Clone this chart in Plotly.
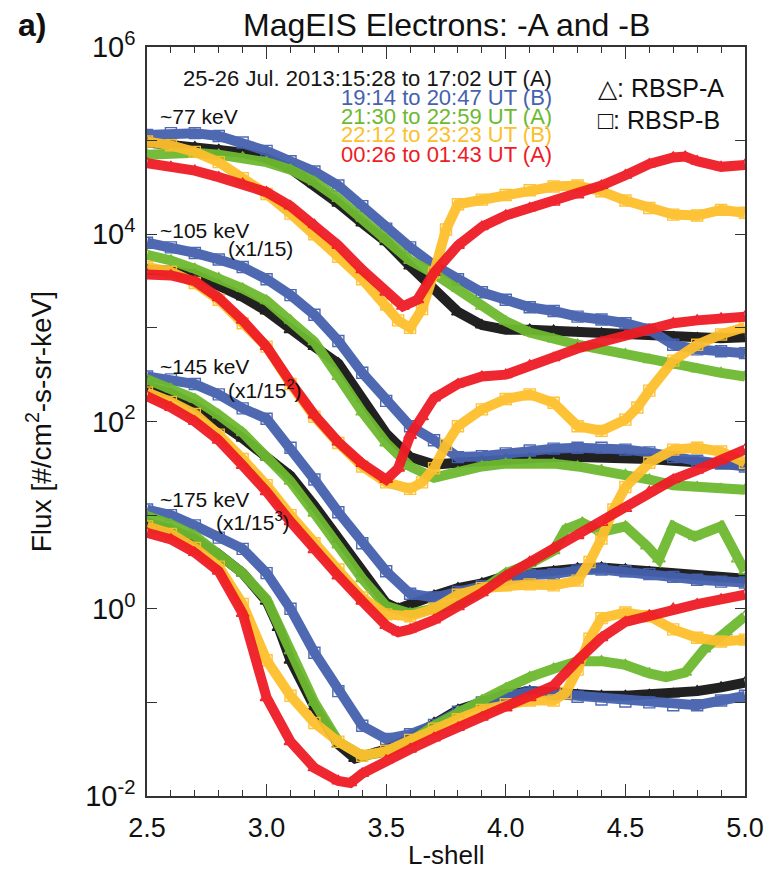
import plotly.graph_objects as go

# ---------------- data (log10 of flux) ----------------
# common L-shell grid
L_GRID = [2.5, 2.6, 2.7, 2.8, 2.9, 3.0, 3.1, 3.2, 3.3, 3.4, 3.5, 3.6, 3.7,
          3.8, 3.9, 4.0, 4.1, 4.2, 4.3, 4.4, 4.5, 4.6, 4.7, 4.8, 4.9, 5.0]

# ~77 keV
L77_black = L_GRID
F77_black = [4.98, 4.96, 4.93, 4.90, 4.87, 4.81, 4.70, 4.53, 4.33, 4.12, 3.92, 3.66, 3.40,
             3.17, 3.03, 2.98, 2.98, 2.97, 2.95, 2.94, 2.93, 2.92, 2.90, 2.89, 2.89, 2.90]
L77_blue = L_GRID
F77_blue = [5.06, 5.08, 5.08, 5.05, 4.98, 4.89, 4.78, 4.67, 4.52, 4.30, 4.06, 3.86, 3.67,
            3.52, 3.38, 3.30, 3.22, 3.18, 3.12, 3.09, 3.05, 2.98, 2.82, 2.77, 2.75, 2.73]
L77_green = L_GRID
F77_green = [4.85, 4.86, 4.87, 4.85, 4.82, 4.77, 4.69, 4.56, 4.38, 4.17, 3.95, 3.72, 3.58,
             3.42, 3.23, 3.07, 2.95, 2.88, 2.82, 2.77, 2.72, 2.66, 2.60, 2.56, 2.52, 2.48]
L77_orange = [2.5, 2.6, 2.7, 2.8, 2.9, 3.0, 3.1, 3.2, 3.3, 3.4, 3.5, 3.55, 3.6, 3.65, 3.7,
              3.75, 3.8, 3.9, 4.0, 4.1, 4.2, 4.3, 4.4, 4.5, 4.6, 4.7, 4.8, 4.9, 5.0]
F77_orange = [4.99, 4.95, 4.88, 4.77, 4.60, 4.43, 4.22, 4.00, 3.76, 3.52, 3.25, 3.08, 3.00, 3.20,
              3.59, 4.05, 4.32, 4.37, 4.42, 4.47, 4.51, 4.52, 4.46, 4.36, 4.28, 4.21, 4.20, 4.26, 4.23]
L77_red = [2.5, 2.6, 2.7, 2.8, 2.9, 3.0, 3.1, 3.2, 3.3, 3.4, 3.5, 3.57, 3.63, 3.7, 3.8,
           3.9, 4.0, 4.1, 4.2, 4.3, 4.4, 4.5, 4.6, 4.7, 4.75, 4.8, 4.9, 5.0]
F77_red = [4.76, 4.72, 4.68, 4.61, 4.54, 4.45, 4.30, 4.10, 3.88, 3.62, 3.38, 3.23, 3.30, 3.59, 3.88,
           4.08, 4.20, 4.28, 4.34, 4.42, 4.52, 4.63, 4.75, 4.82, 4.83, 4.78, 4.72, 4.74]

# ~105 keV (x1/15)
L105_black = L_GRID
F105_black = [3.62, 3.61, 3.57, 3.46, 3.33, 3.18, 2.98, 2.80, 2.62, 2.24, 1.87, 1.62, 1.54,
              1.56, 1.58, 1.60, 1.61, 1.62, 1.62, 1.62, 1.61, 1.60, 1.58, 1.56, 1.54, 1.53]
L105_blue = L_GRID
F105_blue = [3.91, 3.86, 3.80, 3.73, 3.65, 3.52, 3.35, 3.14, 2.86, 2.52, 2.22, 1.95, 1.80,
             1.62, 1.63, 1.66, 1.69, 1.71, 1.72, 1.72, 1.70, 1.67, 1.62, 1.58, 1.55, 1.52]
L105_green = L_GRID
F105_green = [3.78, 3.72, 3.63, 3.53, 3.42, 3.29, 3.08, 2.85, 2.48, 2.10, 1.77, 1.52, 1.40,
              1.46, 1.52, 1.55, 1.56, 1.55, 1.52, 1.48, 1.43, 1.38, 1.32, 1.30, 1.28, 1.27]
L105_orange = [2.5, 2.6, 2.7, 2.8, 2.9, 3.0, 3.1, 3.2, 3.3, 3.4, 3.5, 3.6, 3.65, 3.7, 3.75,
               3.8, 3.9, 4.0, 4.1, 4.2, 4.3, 4.4, 4.5, 4.55, 4.6, 4.7, 4.8, 4.9, 5.0]
F105_orange = [3.65, 3.60, 3.48, 3.30, 3.05, 2.80, 2.40, 2.05, 1.77, 1.52, 1.35, 1.28, 1.35, 1.50, 1.75,
               1.95, 2.13, 2.24, 2.29, 2.20, 1.95, 1.90, 2.02, 2.15, 2.33, 2.65, 2.82, 2.93, 3.01]
L105_red = [2.5, 2.6, 2.7, 2.8, 2.9, 3.0, 3.1, 3.2, 3.3, 3.4, 3.5, 3.55, 3.6, 3.65, 3.7,
            3.8, 3.9, 4.0, 4.1, 4.2, 4.3, 4.4, 4.5, 4.6, 4.7, 4.8, 4.9, 5.0]
F105_red = [3.57, 3.56, 3.50, 3.32, 3.08, 2.80, 2.42, 2.07, 1.78, 1.55, 1.38, 1.50, 1.85, 2.05, 2.25,
            2.40, 2.48, 2.50, 2.60, 2.68, 2.78, 2.85, 2.92, 2.98, 3.05, 3.08, 3.10, 3.12]

# ~145 keV (x1/15^2)
L145_black = [2.5, 2.6, 2.7, 2.8, 2.9, 3.0, 3.1, 3.2, 3.3, 3.4, 3.5, 3.55, 3.6, 3.7,
              3.8, 3.9, 4.0, 4.1, 4.2, 4.3, 4.4, 4.5, 4.6, 4.7, 4.8, 4.9, 5.0]
F145_black = [2.37, 2.30, 2.17, 2.01, 1.82, 1.62, 1.42, 1.10, 0.74, 0.38, 0.06, 0.00, 0.05, 0.14,
              0.22, 0.27, 0.35, 0.38, 0.40, 0.43, 0.44, 0.42, 0.39, 0.36, 0.34, 0.32, 0.32]
L145_blue = L_GRID
F145_blue = [2.48, 2.45, 2.40, 2.29, 2.14, 2.03, 1.72, 1.38, 1.03, 0.70, 0.40, 0.16, 0.12,
             0.18, 0.24, 0.32, 0.36, 0.37, 0.41, 0.42, 0.40, 0.37, 0.34, 0.31, 0.29, 0.28]
L145_green = [2.5, 2.6, 2.7, 2.8, 2.9, 3.0, 3.1, 3.2, 3.3, 3.4, 3.5, 3.6, 3.7, 3.8, 3.9,
              4.0, 4.1, 4.2, 4.25, 4.32, 4.4, 4.5, 4.59, 4.64, 4.7, 4.79, 4.9, 4.97, 5.0]
F145_green = [2.45, 2.35, 2.24, 2.07, 1.88, 1.62, 1.36, 1.02, 0.68, 0.32, 0.03, -0.05, 0.00, 0.05, 0.20,
              0.38, 0.48, 0.62, 0.85, 0.92, 0.82, 0.88, 0.67, 0.53, 0.88, 0.77, 0.88, 0.53, 0.40]
L145_orange = [2.5, 2.6, 2.7, 2.8, 2.9, 3.0, 3.1, 3.2, 3.3, 3.4, 3.5, 3.6, 3.7, 3.8, 3.9,
               4.0, 4.1, 4.2, 4.3, 4.35, 4.4, 4.45, 4.5, 4.6, 4.7, 4.8, 4.9, 5.0]
F145_orange = [2.31, 2.21, 2.08, 1.86, 1.60, 1.32, 1.00, 0.70, 0.42, 0.12, -0.06, -0.08, 0.00, 0.15, 0.22,
               0.25, 0.26, 0.25, 0.30, 0.50, 0.75, 1.06, 1.30, 1.56, 1.70, 1.72, 1.68, 1.56]
L145_red = [2.5, 2.6, 2.7, 2.8, 2.9, 3.0, 3.1, 3.2, 3.3, 3.4, 3.5, 3.55, 3.6, 3.7,
            3.8, 3.9, 4.0, 4.1, 4.2, 4.3, 4.4, 4.5, 4.6, 4.7, 4.8, 4.9, 5.0]
F145_red = [2.27, 2.15, 2.00, 1.80, 1.53, 1.25, 0.93, 0.63, 0.35, 0.08, -0.18, -0.25, -0.22, -0.12,
            0.02, 0.17, 0.35, 0.50, 0.65, 0.78, 0.92, 1.07, 1.25, 1.38, 1.48, 1.58, 1.70]

# ~175 keV (x1/15^3)
L175_black = [2.5, 2.6, 2.7, 2.8, 2.9, 3.0, 3.05, 3.1, 3.2, 3.3, 3.37, 3.45, 3.5, 3.6,
              3.7, 3.8, 3.9, 4.0, 4.1, 4.2, 4.3, 4.4, 4.5, 4.6, 4.7, 4.8, 4.9, 5.0]
F175_black = [0.92, 0.85, 0.74, 0.58, 0.38, 0.08, -0.20, -0.55, -1.05, -1.45, -1.60, -1.55, -1.50, -1.38,
              -1.22, -1.08, -1.00, -0.92, -0.88, -0.90, -0.92, -0.93, -0.93, -0.92, -0.91, -0.88, -0.84, -0.79]
L175_blue = L_GRID
F175_blue = [1.06, 1.00, 0.89, 0.76, 0.64, 0.38, 0.00, -0.47, -0.88, -1.25, -1.39, -1.34, -1.24,
             -1.10, -1.00, -0.93, -0.89, -0.91, -0.94, -0.97, -0.99, -1.00, -1.03, -1.03, -0.98, -0.93]
L175_green = [2.5, 2.6, 2.7, 2.8, 2.9, 3.0, 3.1, 3.2, 3.3, 3.4, 3.5, 3.6, 3.7, 3.8,
              3.9, 4.0, 4.1, 4.2, 4.3, 4.4, 4.5, 4.6, 4.67, 4.75, 4.83, 4.92, 5.0]
F175_green = [0.99, 0.90, 0.78, 0.58, 0.38, 0.10, -0.45, -1.00, -1.42, -1.57, -1.53, -1.42, -1.25, -1.10,
              -0.98, -0.85, -0.73, -0.64, -0.56, -0.56, -0.60, -0.69, -0.73, -0.68, -0.43, -0.25, -0.08]
L175_orange = [2.5, 2.6, 2.7, 2.8, 2.9, 3.0, 3.1, 3.2, 3.3, 3.4, 3.5, 3.6, 3.7, 3.8,
               3.9, 4.0, 4.1, 4.2, 4.25, 4.3, 4.35, 4.4, 4.5, 4.6, 4.7, 4.8, 4.9, 5.0]
F175_orange = [0.88, 0.80, 0.65, 0.45, 0.05, -0.55, -0.93, -1.22, -1.42, -1.57, -1.52, -1.40, -1.28, -1.18,
               -1.08, -1.02, -0.98, -0.98, -0.90, -0.65, -0.32, -0.10, -0.04, -0.08, -0.22, -0.31, -0.35, -0.33]
L175_red = [2.5, 2.6, 2.7, 2.8, 2.9, 3.0, 3.1, 3.2, 3.3, 3.35, 3.4, 3.5, 3.6, 3.7,
            3.8, 3.9, 4.0, 4.1, 4.2, 4.3, 4.4, 4.5, 4.6, 4.7, 4.8, 4.9, 5.0]
F175_red = [0.81, 0.74, 0.60, 0.40, -0.05, -0.95, -1.42, -1.70, -1.84, -1.86, -1.76, -1.62, -1.50, -1.38,
            -1.27, -1.16, -1.06, -0.95, -0.82, -0.55, -0.31, -0.14, -0.07, 0.00, 0.05, 0.10, 0.15]

# time intervals (legend text) and spacecraft
TIME_LABELS = ["25-26 Jul. 2013:15:28 to 17:02 UT (A)", "19:14 to 20:47 UT (B)",
               "21:30 to 22:59 UT (A)", "22:12 to 23:23 UT (B)", "00:26 to 01:43 UT (A)"]
ENERGY_LABELS = ["~77 keV", "~105 keV", "~145 keV", "~175 keV"]
SCALE_LABELS = ["", "(x1/15)", "(x1/15<sup>2</sup>)", "(x1/15<sup>3</sup>)"]
X_TICKS = [2.5, 3.0, 3.5, 4.0, 4.5, 5.0]
Y_EXPONENTS = [-2, -1, 0, 1, 2, 3, 4, 5, 6]

# ---------------- styling ----------------
BLACK = "#161616"
BLUE = "#4562AE"
GREEN = "#6DB92F"
ORANGE = "#FDBF2C"
RED = "#EF1C25"
FONT = "Liberation Sans, Arial, Helvetica, sans-serif"

W, H = 776, 870
ML, MR, MT, MB = 147, 24, 47, 74
PW, PH = W - ML - MR, H - MT - MB


def px(x):
    return (x - ML) / PW


def py(y):
    return (H - MB - y) / PH


series = [
    # (color, symbol, [(L, logF), ...])
    (BLACK, "triangle-up-open", [(L77_black, F77_black), (L105_black, F105_black),
                                 (L145_black, F145_black), (L175_black, F175_black)]),
    (BLUE, "square-open", [(L77_blue, F77_blue), (L105_blue, F105_blue),
                           (L145_blue, F145_blue), (L175_blue, F175_blue)]),
    (GREEN, "triangle-up-open", [(L77_green, F77_green), (L105_green, F105_green),
                                 (L145_green, F145_green), (L175_green, F175_green)]),
    (ORANGE, "square-open", [(L77_orange, F77_orange), (L105_orange, F105_orange),
                             (L145_orange, F145_orange), (L175_orange, F175_orange)]),
    (RED, "triangle-up-open", [(L77_red, F77_red), (L105_red, F105_red),
                               (L145_red, F145_red), (L175_red, F175_red)]),
]

fig = go.Figure()
for color, symbol, groups in series:
    for Ls, logF in groups:
        fig.add_trace(go.Scatter(
            x=Ls, y=[10 ** v for v in logF], mode="lines+markers",
            line=dict(color=color, width=10),
            marker=dict(symbol=symbol, size=11, color=color, line=dict(color=color, width=1.4)),
            opacity=0.95, showlegend=False, hoverinfo="skip"))

ann = []
# time legend (right aligned)
time_colors = [BLACK, BLUE, GREEN, ORANGE, RED]
time_y = [78, 97, 116, 135, 154]
for txt, col, yy in zip(TIME_LABELS, time_colors, time_y):
    ann.append(dict(text=txt, x=px(559), y=py(yy), xref="paper", yref="paper",
                    xanchor="right", yanchor="middle", showarrow=False,
                    font=dict(size=22, color=col, family=FONT)))
# spacecraft legend
ann.append(dict(text="\u25b3: RBSP-A", x=px(601), y=py(88), xref="paper", yref="paper",
                xanchor="left", yanchor="middle", showarrow=False,
                font=dict(size=25, color="#111", family=FONT)))
ann.append(dict(text="\u25a1: RBSP-B", x=px(601), y=py(120), xref="paper", yref="paper",
                xanchor="left", yanchor="middle", showarrow=False,
                font=dict(size=25, color="#111", family=FONT)))
# energy labels
energy_y = [116, 230, 366, 500]
scale_pos = [None, (227, 248), (227, 389), (215, 521)]
for lab, yy, sc, sp in zip(ENERGY_LABELS, energy_y, SCALE_LABELS, scale_pos):
    ann.append(dict(text=lab, x=px(158), y=py(yy), xref="paper", yref="paper",
                    xanchor="left", yanchor="middle", showarrow=False,
                    font=dict(size=21, color="#111", family=FONT)))
    if sp:
        ann.append(dict(text=sc, x=px(sp[0]), y=py(sp[1]), xref="paper", yref="paper",
                        xanchor="left", yanchor="middle", showarrow=False,
                        font=dict(size=21, color="#111", family=FONT)))
# title, panel label, axis titles
ann.append(dict(text="MagEIS Electrons: -A and -B", x=px(450), y=py(25), xref="paper", yref="paper",
                xanchor="center", yanchor="middle", showarrow=False,
                font=dict(size=32, color="#111", family=FONT)))
ann.append(dict(text="<b>a)</b>", x=px(14), y=py(25), xref="paper", yref="paper",
                xanchor="left", yanchor="middle", showarrow=False,
                font=dict(size=32, color="#111", family=FONT)))
ann.append(dict(text="Flux [#/cm<sup>2</sup>-s-sr-keV]", x=px(38), y=py(422), xref="paper", yref="paper",
                xanchor="center", yanchor="middle", textangle=-90, showarrow=False,
                font=dict(size=28, color="#111", family=FONT)))
ann.append(dict(text="L-shell", x=px(450), y=py(855), xref="paper", yref="paper",
                xanchor="center", yanchor="middle", showarrow=False,
                font=dict(size=26, color="#111", family=FONT)))

fig.update_layout(
    width=W, height=H, margin=dict(l=ML, r=MR, t=MT, b=MB),
    paper_bgcolor="white", plot_bgcolor="white",
    annotations=ann, font=dict(family=FONT, color="#111"),
    xaxis=dict(range=[2.5, 5.0], tickvals=X_TICKS, ticktext=[f"{v:.1f}" for v in X_TICKS],
               ticks="inside", ticklen=12, tickwidth=1.2, tickcolor="#333",
               minor=dict(dtick=0.1, ticks="inside", ticklen=6, tickwidth=1.2, tickcolor="#333"),
               showline=True, linecolor="#333", linewidth=1.5, mirror="allticks",
               showgrid=False, zeroline=False, ticklabelstandoff=7,
               tickfont=dict(size=27, family=FONT, color="#111")),
    yaxis=dict(type="log", range=[-2, 6],
               tickvals=[10 ** e for e in Y_EXPONENTS],
               ticktext=[(f"10<sup>{e}</sup>" if e % 2 == 0 else "") for e in Y_EXPONENTS],
               ticks="inside", ticklen=10, tickwidth=1.2, tickcolor="#333",
               showline=True, linecolor="#333", linewidth=1.5, mirror="allticks",
               showgrid=False, zeroline=False, ticklabelstandoff=4,
               tickfont=dict(size=29, family=FONT, color="#111")),
)

fig.write_html("out.html")
